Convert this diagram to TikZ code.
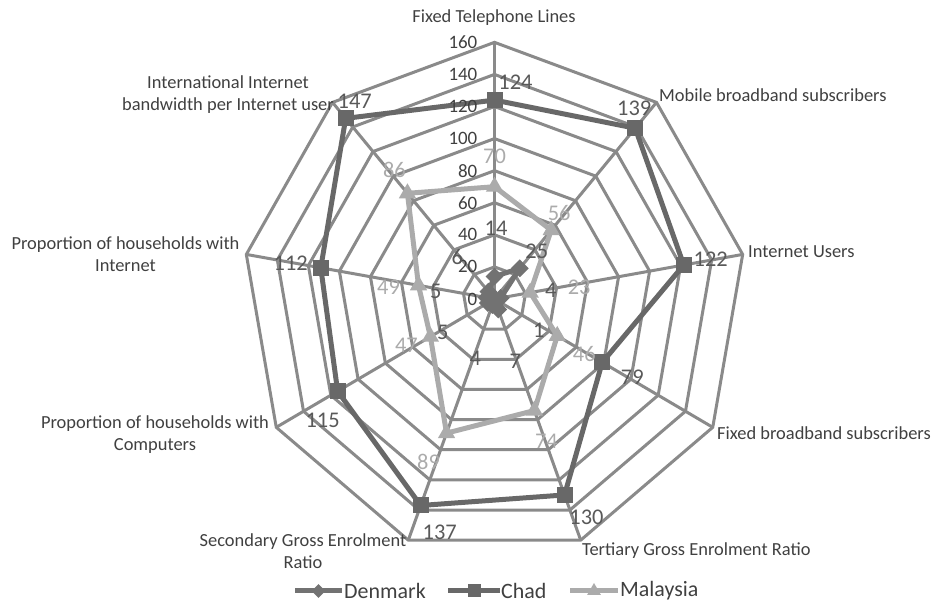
\documentclass[tikz,border=0pt]{standalone}
\usepackage{fontspec}
\setmainfont{Carlito}
\usetikzlibrary{shapes.geometric, positioning}

\definecolor{gridgray}{HTML}{8A8A8A}
\definecolor{dengray}{HTML}{727272}
\definecolor{chadgray}{HTML}{686868}
\definecolor{malgray}{HTML}{ABABAB}
\definecolor{textgray}{HTML}{404040}
\definecolor{labgray}{HTML}{595959}

\begin{document}
\begin{tikzpicture}[x=1bp, y=1bp,
    grid/.style={draw=gridgray, line width=3bp},
    series/.style={line width=5bp, line join=round},
    axislabel/.style={font=\fontsize{18.5}{22}\selectfont, text=textgray, align=center, inner sep=0pt},
    ticklabel/.style={font=\fontsize{19}{19}\selectfont, text=textgray, anchor=east, inner sep=0pt},
    vallabel/.style={font=\fontsize{22.5}{22}\selectfont, inner sep=0pt},
    legtext/.style={font=\fontsize{22}{22}\selectfont, text=textgray, anchor=west, inner sep=0pt},
    sqmark/.style={rectangle, fill=chadgray, minimum size=16bp, inner sep=0pt},
    dmmark/.style={diamond, fill=dengray, minimum size=18bp, inner sep=0pt},
    trmark/.style={regular polygon, regular polygon sides=3, fill=malgray, minimum size=20bp, inner sep=0pt}]

\useasboundingbox (0,0) rectangle (933,603);

\begin{scope}[shift={(494.5,304)}, x=1.575bp, y=1.604bp]
% web
\foreach \r in {20,40,...,160}
  \draw[grid] (90:\r) \foreach \a in {50,10,...,-230} {-- (\a:\r)} -- cycle;
\foreach \a [count=\i from 0] in {90,50,...,-230} {
  \coordinate (ax\i) at (\a:160);
  \draw[grid] (0,0) -- (ax\i);
}
% data points
\foreach \v [count=\i from 0] in {14,25,4,1,7,4,5,5,6}
  \coordinate (den\i) at ({90-40*(\i)}:\v);
\foreach \v [count=\i from 0] in {124,139,122,79,130,137,115,112,147}
  \coordinate (chad\i) at ({90-40*(\i)}:\v);
\foreach \v [count=\i from 0] in {70,56,23,46,74,89,47,49,86}
  \coordinate (mal\i) at ({90-40*(\i)}:\v);

\draw[series, draw=dengray] (den0) \foreach \i in {1,...,8} {-- (den\i)} -- cycle;
\foreach \i in {0,...,8} \node[dmmark] (denmk\i) at (den\i) {};
\draw[series, draw=chadgray] (chad0) \foreach \i in {1,...,8} {-- (chad\i)} -- cycle;
\foreach \i in {0,...,8} \node[sqmark] (chadmk\i) at (chad\i) {};
\draw[series, draw=malgray] (mal0) \foreach \i in {1,...,8} {-- (mal\i)} -- cycle;
\foreach \i in {0,...,8} \node[trmark] (malmk\i) at (mal\i) {};

% scale
\foreach \r in {0,20,...,160}
  \node[ticklabel] (tick\r) at (-10.8,\r) {\r};
\end{scope}

% value labels
\foreach \v/\dx/\dy [count=\i from 0] in {14/1.5/48, 25/17/17, 4/50/8, 1/43/-30, 7/17/-52,
    4/-17/-53, 5/-45/-29, 5/-51/6, 6/-31/35}
  \node[vallabel, text=labgray] (denlab\i) at ([shift={(\dx,\dy)}]den\i) {\v};
\foreach \v/\dx/\dy [count=\i from 0] in {124/21/18, 139/-1/20, 122/27/6, 79/30/-15, 130/22/-22,
    137/19/-27, 115/-15/-29, 112/-30/5, 147/9/17}
  \node[vallabel, text=labgray] (chadlab\i) at ([shift={(\dx,\dy)}]chad\i) {\v};
\foreach \v/\dx/\dy [count=\i from 0] in {70/0/30, 56/8/17, 23/49/5, 46/27/-18, 74/12/-31,
    89/-18/-29, 47/-24/-9, 49/-30/-2, 86/-13/23}
  \node[vallabel, text=malgray] (mallab\i) at ([shift={(\dx,\dy)}]mal\i) {\v};

% axis names
\node[axislabel] (fixtel) at (494,585) {Fixed Telephone Lines};
\node[axislabel, anchor=west] (mobbb) at (659,508) {Mobile broadband subscribers};
\node[axislabel, anchor=west] (netusers) at (748,351) {Internet Users};
\node[axislabel, anchor=west] (fixbb) at (717,170) {Fixed broadband subscribers};
\node[axislabel, anchor=west] (tertiary) at (582,52) {Tertiary Gross Enrolment Ratio};
\node[axislabel] (secondary) at (303,51.5) {Secondary Gross Enrolment\\Ratio};
\node[axislabel] (hhcomp) at (155,168.5) {Proportion of households with\\Computers};
\node[axislabel] (hhnet) at (125.5,349) {Proportion of households with\\Internet};
\node[axislabel] (bandwidth) at (228,508) {International Internet\\bandwidth per Internet user};

% legend
\coordinate (legden) at (295,12);
\coordinate (legchad) at (448,12);
\coordinate (legmal) at (570,12);
\draw[series, draw=dengray] (legden) -- ++(47,0) node[pos=0.5, dmmark, minimum size=16bp] (legdenmk) {}
  coordinate (legdenend);
\node[legtext] (legdentext) at ([xshift=2bp]legdenend) {Denmark};
\draw[series, draw=chadgray] (legchad) -- ++(52,0) node[pos=0.5, sqmark, minimum size=13bp] (legchadmk) {}
  coordinate (legchadend);
\node[legtext] (legchadtext) at ([xshift=1bp]legchadend) {Chad};
\draw[series, draw=malgray] (legmal) -- ++(48,0) node[pos=0.5, trmark, minimum size=16bp] (legmalmk) {}
  coordinate (legmalend);
\node[legtext] (legmaltext) at ([xshift=2bp]legmalend) {Malaysia};
\end{tikzpicture}
\end{document}
